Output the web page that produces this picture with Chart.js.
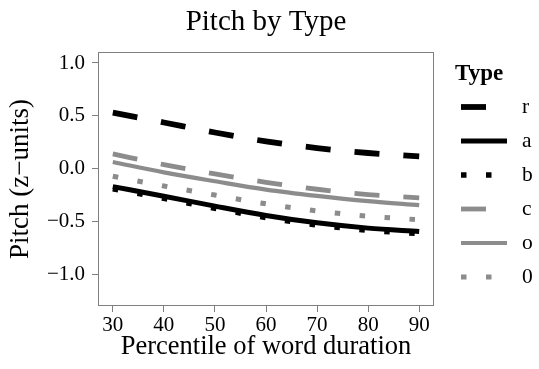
<!DOCTYPE html>
<html>
<head>
<meta charset="utf-8">
<script src="https://cdn.jsdelivr.net/npm/chart.js@4.4.1/dist/chart.umd.min.js"></script>
<style>
html,body{margin:0;padding:0;background:#ffffff;}
#wrap{position:relative;width:539px;height:369px;}
</style>
</head>
<body>
<div id="wrap"><canvas id="c"></canvas></div>
<script>
// ---- data ----
const percentiles = [30, 40, 50, 60, 70, 80, 90];
const typeNames = ['r', 'a', 'b', 'c', 'o', '0'];
const r_vals    = [0.531, 0.437, 0.342, 0.258, 0.195, 0.148, 0.116];
const a_vals    = [-0.170, -0.261, -0.355, -0.443, -0.513, -0.563, -0.594];
const b_vals    = [-0.190, -0.281, -0.375, -0.463, -0.533, -0.583, -0.614];
const c_vals    = [0.139, 0.038, -0.050, -0.129, -0.195, -0.245, -0.277];
const o_vals    = [0.063, -0.035, -0.119, -0.198, -0.258, -0.308, -0.346];
const zero_vals = [-0.072, -0.164, -0.250, -0.333, -0.400, -0.450, -0.484];
const xTicks = [30, 40, 50, 60, 70, 80, 90];
const yTicks = [-1.0, -0.5, 0.0, 0.5, 1.0];
const chartTitle = 'Pitch by Type';
const xTitle = 'Percentile of word duration';
const yTitle = 'Pitch (z\u2212units)';
const legendTitle = 'Type';

// ---- styles ----
const SERIF = '"Liberation Serif", "Times New Roman", Times, serif';
const BLACK = '#000000';
const GREY = '#8c8c8c';
const FRAME = '#7f7f7f';
const DASH = [25, 24];
const DOT = [5.5, 19.5];
const styles = {
  r: {color: BLACK, dash: DASH, width: 5.8},
  a: {color: BLACK, dash: [], width: 5},
  b: {color: BLACK, dash: DOT, width: 5.5},
  c: {color: GREY, dash: DASH, width: 4.8},
  o: {color: GREY, dash: [], width: 4.2},
  '0': {color: GREY, dash: DOT, width: 5}
};
const valuesByType = {r: r_vals, a: a_vals, b: b_vals, c: c_vals, o: o_vals, '0': zero_vals};

const datasets = typeNames.map(name => ({
  label: name,
  data: percentiles.map((p, i) => ({x: p, y: valuesByType[name][i]})),
  borderColor: styles[name].color,
  backgroundColor: styles[name].color,
  borderWidth: styles[name].width,
  borderDash: styles[name].dash,
  borderCapStyle: 'butt',
  cubicInterpolationMode: 'monotone',
  pointRadius: 0,
  pointHoverRadius: 0,
  fill: false
}));

// frame around the panel
const framePlugin = {
  id: 'frame',
  afterDatasetsDraw(chart) {
    const {ctx, chartArea: a} = chart;
    ctx.save();
    ctx.strokeStyle = FRAME;
    ctx.lineWidth = 1;
    ctx.strokeRect(Math.round(a.left) + 0.5, Math.round(a.top) + 0.5,
                   Math.round(a.right - a.left) - 1, Math.round(a.bottom - a.top) - 1);
    ctx.restore();
  }
};

// legend to the right of the panel
const typeLegend = {
  id: 'typeLegend',
  afterDraw(chart) {
    const {ctx, chartArea: a} = chart;
    const x0 = a.right + 21;
    ctx.save();
    ctx.fillStyle = '#000';
    ctx.textAlign = 'left';
    ctx.textBaseline = 'alphabetic';
    ctx.font = 'bold 23px ' + SERIF;
    ctx.fillText(legendTitle, x0, 80);
    chart.data.datasets.forEach((ds, i) => {
      const y = 107 + i * 34;
      ctx.beginPath();
      ctx.strokeStyle = ds.borderColor;
      ctx.lineWidth = ds.borderWidth;
      ctx.lineCap = 'butt';
      ctx.setLineDash(ds.borderDash || []);
      ctx.moveTo(x0 + 6, y);
      ctx.lineTo(x0 + 52, y);
      ctx.stroke();
      ctx.setLineDash([]);
      ctx.font = '21.5px ' + SERIF;
      ctx.textBaseline = 'middle';
      ctx.fillText(ds.label, x0 + 67, y);
    });
    ctx.restore();
  }
};

const fmt = v => (v < 0 ? '\u2212' : '') + Math.abs(v).toFixed(1);

new Chart(document.getElementById('c'), {
  type: 'line',
  data: {datasets},
  plugins: [framePlugin, typeLegend],
  options: {
    responsive: true,
    maintainAspectRatio: false,
    animation: false,
    events: [],
    layout: {padding: {left: 0, right: 105, top: 0, bottom: 0}},
    plugins: {
      legend: {display: false},
      tooltip: {enabled: false},
      title: {
        display: true,
        text: chartTitle,
        fullSize: false,
        color: '#000',
        font: {family: SERIF, size: 29, weight: 'normal', lineHeight: 1.2},
        padding: {top: 5.4, bottom: 11.8}
      }
    },
    scales: {
      x: {
        type: 'linear',
        min: 27.1,
        max: 92.9,
        afterBuildTicks: s => { s.ticks = xTicks.map(v => ({value: v})); },
        afterFit: s => { s.height = 63; },
        grid: {display: true, drawOnChartArea: false, drawTicks: true, tickLength: 6, color: FRAME, tickColor: FRAME},
        border: {display: false},
        ticks: {color: '#000', font: {family: SERIF, size: 21}, padding: 1, maxRotation: 0,
                callback: v => String(v)},
        title: {display: true, text: xTitle, color: '#000',
                font: {family: SERIF, size: 26.5, lineHeight: 1.2}, padding: {top: 0, bottom: 5.6}}
      },
      y: {
        type: 'linear',
        min: -1.30,
        max: 1.104,
        afterBuildTicks: s => { s.ticks = yTicks.map(v => ({value: v})); },
        afterFit: s => { s.width = 98; },
        grid: {display: true, drawOnChartArea: false, drawTicks: true, tickLength: 6, color: FRAME, tickColor: FRAME},
        border: {display: false},
        ticks: {color: '#000', font: {family: SERIF, size: 21}, padding: 7,
                callback: v => fmt(v)},
        title: {display: true, text: yTitle, color: '#000',
                font: {family: SERIF, size: 27, lineHeight: 1.2}, padding: {top: 4.5, bottom: 0}}
      }
    }
  }
});
</script>
</body>
</html>
